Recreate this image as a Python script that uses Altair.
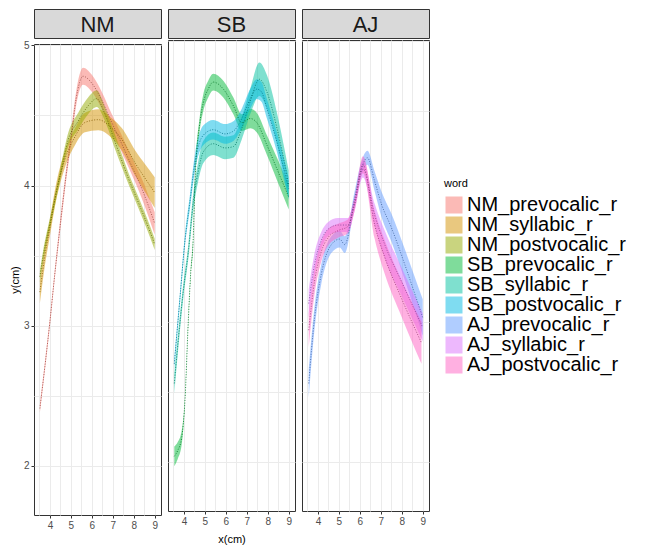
import altair as alt
import pandas as pd

panels = ["NM", "SB", "AJ"]
words = ["NM_prevocalic_r", "NM_syllabic_r", "NM_postvocalic_r",
         "SB_prevocalic_r", "SB_syllabic_r", "SB_postvocalic_r",
         "AJ_prevocalic_r", "AJ_syllabic_r", "AJ_postvocalic_r"]
colors = ["#F8766D", "#D39200", "#93AA00", "#00BA38", "#00C19F", "#00B9E3",
          "#619CFF", "#DB72FB", "#FF61C3"]
line_colors = ["#954741", "#7F5800", "#586600", "#007022", "#00745F", "#006F88",
               "#3A5E99", "#834497", "#993A75"]

# ---- NM ----
nm_pre_x = [3.52, 3.76, 4.0, 4.24, 4.5, 4.75, 5.0, 5.25, 5.58, 6.0, 6.47, 6.95, 7.42, 7.9, 8.38, 9.0]
nm_pre_y = [2.41, 2.71, 3.03, 3.38, 3.73, 4.05, 4.33, 4.62, 4.78, 4.73, 4.61, 4.45, 4.30, 4.14, 3.98, 3.73]
nm_pre_w = [0.03, 0.03, 0.03, 0.03, 0.04, 0.04, 0.05, 0.05, 0.06, 0.06, 0.06, 0.06, 0.06, 0.06, 0.07, 0.08]

nm_syl_x = [3.52, 3.76, 4.0, 4.24, 4.72, 5.2, 5.67, 6.31, 6.95, 7.43, 8.07, 8.55, 9.0]
nm_syl_y = [3.24, 3.50, 3.70, 3.91, 4.19, 4.35, 4.45, 4.47, 4.41, 4.33, 4.16, 4.05, 3.95]
nm_syl_w = [0.08, 0.07, 0.06, 0.06, 0.06, 0.06, 0.07, 0.075, 0.07, 0.08, 0.09, 0.10, 0.11]

nm_post_x = [3.52, 3.68, 4.0, 4.48, 4.88, 5.35, 5.83, 6.23, 6.6, 7.11, 7.75, 8.22, 8.78, 9.0]
nm_post_y = [3.35, 3.50, 3.73, 4.07, 4.33, 4.46, 4.57, 4.62, 4.52, 4.31, 4.05, 3.88, 3.67, 3.58]
nm_post_w = [0.04, 0.04, 0.04, 0.04, 0.05, 0.06, 0.06, 0.06, 0.05, 0.05, 0.04, 0.04, 0.04, 0.04]

# ---- SB ----
sb_pre_x = [3.54, 3.7, 3.89, 4.05, 4.21, 4.32, 4.44, 4.53, 4.76, 4.92, 5.16, 5.40, 5.88, 6.36, 6.76, 7.16, 7.48, 7.96, 8.44, 9.0]
sb_pre_y = [2.04, 2.08, 2.17, 2.44, 3.01, 3.34, 3.58, 4.00, 4.42, 4.56, 4.66, 4.71, 4.66, 4.54, 4.42, 4.45, 4.42, 4.26, 4.09, 3.89]
sb_pre_w = [0.07, 0.06, 0.05, 0.02, 0.02, 0.02, 0.03, 0.04, 0.05, 0.06, 0.06, 0.06, 0.06, 0.06, 0.06, 0.07, 0.07, 0.07, 0.08, 0.09]

sb_syl_x = [3.54, 3.73, 3.97, 4.21, 4.45, 4.68, 4.92, 5.40, 5.96, 6.36, 6.76, 7.16, 7.6, 7.96, 8.44, 9.0]
sb_syl_y = [2.56, 2.87, 3.22, 3.50, 3.86, 4.07, 4.21, 4.27, 4.24, 4.25, 4.38, 4.57, 4.73, 4.64, 4.38, 3.98]
sb_syl_w = [0.07, 0.06, 0.05, 0.05, 0.06, 0.07, 0.08, 0.08, 0.08, 0.08, 0.08, 0.09, 0.12, 0.12, 0.11, 0.10]

sb_post_x = [3.54, 3.8, 4.05, 4.29, 4.53, 4.92, 5.40, 5.96, 6.36, 6.76, 7.16, 7.48, 7.7, 7.96, 8.44, 9.0]
sb_post_y = [2.70, 3.15, 3.58, 3.86, 4.14, 4.33, 4.37, 4.34, 4.36, 4.45, 4.59, 4.66, 4.64, 4.52, 4.28, 3.95]
sb_post_w = [0.04, 0.04, 0.04, 0.05, 0.06, 0.07, 0.07, 0.07, 0.07, 0.07, 0.07, 0.07, 0.07, 0.07, 0.07, 0.08]

# ---- AJ ----
aj_pre_x = [3.56, 3.84, 4.16, 4.64, 5.04, 5.28, 5.75, 6.07, 6.36, 6.71, 7.03, 7.51, 8.14, 8.62, 9.0]
aj_pre_y = [2.56, 3.03, 3.34, 3.55, 3.59, 3.55, 3.88, 4.09, 4.17, 4.00, 3.84, 3.67, 3.41, 3.20, 3.03]
aj_pre_w = [0.10, 0.08, 0.07, 0.06, 0.06, 0.06, 0.05, 0.05, 0.05, 0.07, 0.09, 0.10, 0.11, 0.12, 0.13]

aj_syl_x = [3.56, 3.84, 4.16, 4.48, 4.96, 5.43, 5.75, 6.15, 6.71, 7.19, 7.98, 9.0]
aj_syl_y = [3.13, 3.41, 3.58, 3.66, 3.69, 3.69, 3.84, 4.09, 3.76, 3.55, 3.29, 2.96]
aj_syl_w = [0.10, 0.08, 0.06, 0.05, 0.05, 0.05, 0.05, 0.06, 0.08, 0.10, 0.10, 0.10]

aj_post_x = [3.56, 3.84, 4.16, 4.48, 4.96, 5.43, 5.75, 6.15, 6.71, 7.19, 7.98, 8.94]
aj_post_y = [2.94, 3.29, 3.50, 3.60, 3.65, 3.68, 3.84, 4.12, 3.69, 3.46, 3.17, 2.85]
aj_post_w = [0.12, 0.09, 0.07, 0.06, 0.05, 0.05, 0.05, 0.06, 0.10, 0.12, 0.13, 0.15]

series = {
    "NM_prevocalic_r": (nm_pre_x, nm_pre_y, nm_pre_w),
    "NM_syllabic_r": (nm_syl_x, nm_syl_y, nm_syl_w),
    "NM_postvocalic_r": (nm_post_x, nm_post_y, nm_post_w),
    "SB_prevocalic_r": (sb_pre_x, sb_pre_y, sb_pre_w),
    "SB_syllabic_r": (sb_syl_x, sb_syl_y, sb_syl_w),
    "SB_postvocalic_r": (sb_post_x, sb_post_y, sb_post_w),
    "AJ_prevocalic_r": (aj_pre_x, aj_pre_y, aj_pre_w),
    "AJ_syllabic_r": (aj_syl_x, aj_syl_y, aj_syl_w),
    "AJ_postvocalic_r": (aj_post_x, aj_post_y, aj_post_w),
}

x_ticks = [3.5, 4, 4.5, 5, 5.5, 6, 6.5, 7, 7.5, 8, 8.5, 9]
y_ticks = [2, 2.5, 3, 3.5, 4, 4.5, 5]

rows = []
for w, (xs, ys, ws) in series.items():
    for a, b, c in zip(xs, ys, ws):
        rows.append({"word": w, "panel": w.split("_")[0], "x": a, "y": b,
                     "lo": b - c, "hi": b + c})
df = pd.DataFrame(rows)

W, H, SH = 127, 471, 29
FONT = "Liberation Sans"
color_scale = alt.Scale(domain=words, range=colors)
stroke_scale = alt.Scale(domain=words, range=line_colors)
xscale = alt.Scale(domain=[3.24, 9.3], nice=False, zero=False)
yscale = alt.Scale(domain=[1.65, 5.01], nice=False, zero=False)

is_int = "datum.value % 1 === 0"
tick_col = {"condition": {"test": is_int, "value": "#333333"}, "value": "transparent"}
label_expr = f"{is_int} ? format(datum.value, 'd') : ''"


def make_panel(name, first, middle):
    xaxis = alt.Axis(values=x_ticks, tickCount=40, labelExpr=label_expr, labelOverlap=False,
                     tickColor=tick_col, tickSize=3, gridColor="#EBEBEB", gridWidth=1,
                     domain=False, labelColor="#4D4D4D", labelFontSize=10, labelFont=FONT,
                     labelPadding=2, labelFlush=False, title="x(cm)" if middle else None,
                     titleFont=FONT, titleFontSize=11, titleFontWeight="normal",
                     titleColor="#000000", titlePadding=7)
    if first:
        yaxis = alt.Axis(values=y_ticks, tickCount=40, labelExpr=label_expr, labelOverlap=False,
                         tickColor=tick_col, tickSize=3, gridColor="#EBEBEB", gridWidth=1,
                         domain=False, labelColor="#4D4D4D", labelFontSize=10, labelFont=FONT,
                         labelPadding=2, labelFlush=False, title="y(cm)", titleFont=FONT,
                         titleFontSize=11, titleFontWeight="normal", titleColor="#000000",
                         titlePadding=3)
    else:
        yaxis = alt.Axis(values=y_ticks, tickCount=40, labels=False, ticks=False, domain=False,
                         title=None, gridColor="#EBEBEB", gridWidth=1)
    base = alt.Chart(df).transform_filter(alt.datum.panel == name)
    band = base.mark_area(opacity=0.5, interpolate="monotone").encode(
        x=alt.X("x:Q", scale=xscale, axis=xaxis),
        y=alt.Y("lo:Q", scale=yscale, axis=yaxis),
        y2="hi:Q",
        color=alt.Color("word:N", scale=color_scale,
                        legend=alt.Legend(title="word", symbolOpacity=0.5)),
    )
    line = base.mark_line(strokeDash=[1, 1.6], strokeWidth=0.9, opacity=0.9,
                          interpolate="monotone").encode(
        x=alt.X("x:Q", scale=xscale, axis=xaxis),
        y=alt.Y("y:Q", scale=yscale, axis=yaxis),
        stroke=alt.Stroke("word:N", scale=stroke_scale, legend=None),
    )
    plot = alt.layer(band, line).properties(width=W, height=H)
    strip = alt.Chart(pd.DataFrame({"label": [name]})).mark_text(
        fontSize=22, font=FONT, color="#1A1A1A", baseline="middle", align="center"
    ).encode(text="label:N", x=alt.value(W / 2), y=alt.value(SH / 2 + 1)).properties(
        width=W, height=SH, view=alt.ViewBackground(fill="#D9D9D9", stroke="#333333"))
    return alt.vconcat(strip, plot, spacing=0)


chart = alt.hconcat(
    make_panel("NM", True, False),
    make_panel("SB", False, True),
    make_panel("AJ", False, False),
    spacing=5,
).properties(padding=0).configure_view(stroke="#333333", strokeWidth=1).configure_legend(
    orient="none", legendX=410, legendY=169,
    titleFont=FONT, titleFontSize=11, titleFontWeight="normal", titleColor="#000000",
    titlePadding=6, labelFont=FONT, labelFontSize=20, labelColor="#000000", labelLimit=400,
    symbolType="square", symbolSize=289, symbolStrokeWidth=0, rowPadding=0,
    labelOffset=3,
)

chart.save("out.html", embed_options={"renderer": "svg", "actions": False})
